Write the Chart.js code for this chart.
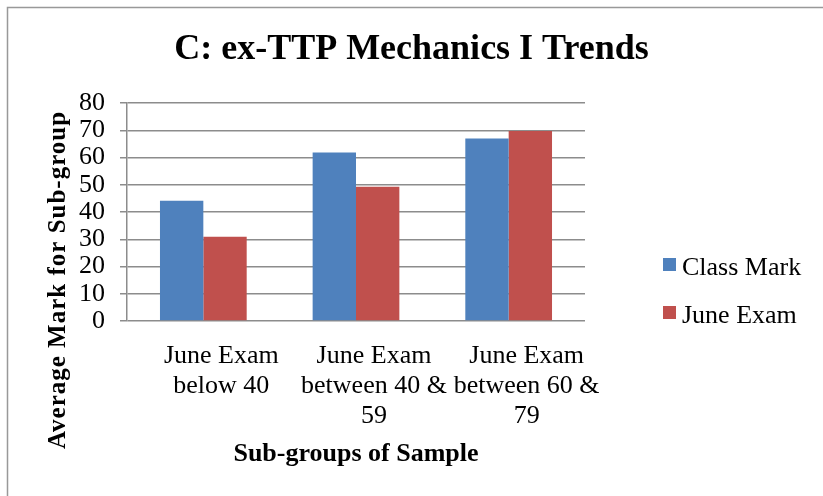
<!DOCTYPE html>
<html>
<head>
<meta charset="utf-8">
<script src="https://cdn.jsdelivr.net/npm/chart.js@4.4.1/dist/chart.umd.min.js"></script>
<style>
  html, body { margin: 0; padding: 0; background: #fff; overflow: hidden; }
  #wrap { position: relative; width: 823px; height: 496px; }
</style>
</head>
<body>
<div id="wrap"><canvas id="chart" width="823" height="496"></canvas></div>
<script>
// chart data
const categories = [
  ['June Exam', 'below 40'],
  ['June Exam', 'between 40 &', '59'],
  ['June Exam', 'between 60 &', '79']
];
const classMark = [44.2, 61.9, 67.0];
const juneExam = [30.9, 49.3, 69.8];
const seriesNames = ['Class Mark', 'June Exam'];
const seriesColors = ['#4f81bd', '#c0504d'];

const serif = "'Liberation Serif', 'Times New Roman', serif";
const gridGray = '#8c8c8c';

// frame, rotated y title and the legend, placed as in the original sheet
const decor = {
  id: 'decor',
  beforeDraw(chart) {
    const ctx = chart.ctx;
    ctx.save();
    ctx.fillStyle = '#fff';
    ctx.fillRect(0, 0, chart.width, chart.height);
    ctx.strokeStyle = '#999';
    ctx.lineWidth = 1.5;
    ctx.beginPath();
    ctx.moveTo(7.5, chart.height + 5);
    ctx.lineTo(7.5, 7.5);
    ctx.lineTo(chart.width + 5, 7.5);
    ctx.stroke();
    ctx.restore();
  },
  afterDraw(chart) {
    const ctx = chart.ctx;
    ctx.save();
    // y axis title
    ctx.translate(65, 280);
    ctx.rotate(-Math.PI / 2);
    ctx.font = 'bold 25px ' + serif;
    ctx.letterSpacing = '1px';
    ctx.fillStyle = '#000';
    ctx.textAlign = 'center';
    ctx.textBaseline = 'alphabetic';
    ctx.fillText('Average Mark for Sub-group', 0, 0);
    ctx.restore();

    // legend
    ctx.save();
    ctx.font = '26px ' + serif;
    ctx.textBaseline = 'alphabetic';
    chart.data.datasets.forEach((ds, i) => {
      const y = 258 + i * 48;
      ctx.fillStyle = ds.backgroundColor;
      ctx.fillRect(663, y, 13, 13);
      ctx.fillStyle = '#000';
      ctx.fillText(ds.label, 682, y + 17);
    });
    ctx.restore();
  }
};

new Chart(document.getElementById('chart'), {
  type: 'bar',
  data: {
    labels: categories,
    datasets: [
      { label: seriesNames[0], data: classMark, backgroundColor: seriesColors[0] },
      { label: seriesNames[1], data: juneExam, backgroundColor: seriesColors[1] }
    ]
  },
  options: {
    responsive: false,
    animation: false,
    devicePixelRatio: 1,
    layout: { padding: 0 },
    datasets: {
      bar: { categoryPercentage: 0.568, barPercentage: 1.0, borderWidth: 0 }
    },
    plugins: {
      legend: { display: false },
      tooltip: { enabled: false },
      title: {
        display: true,
        text: 'C: ex-TTP Mechanics I Trends',
        color: '#000',
        font: { family: serif, size: 36, weight: 'bold', lineHeight: 1.2 },
        padding: { top: 28, bottom: 32 }
      }
    },
    scales: {
      x: {
        grid: { display: false },
        border: { display: false },
        ticks: {
          color: '#000',
          font: { family: serif, size: 26, lineHeight: 1.15 },
          padding: 12,
          labelOffset: 18,
          maxRotation: 0,
          autoSkip: false
        },
        title: {
          display: true,
          text: 'Sub-groups of Sample',
          color: '#000',
          font: { family: serif, size: 26, weight: 'bold', lineHeight: 1.2 },
          padding: { top: 0, bottom: 26 }
        },
        afterFit(scale) { scale.height = 175; }
      },
      y: {
        min: 0,
        max: 80,
        ticks: {
          stepSize: 10,
          autoSkip: false,
          color: '#000',
          font: { family: serif, size: 26 },
          padding: 15
        },
        grid: { color: gridGray, lineWidth: 1.5, tickLength: 7 },
        border: { display: true, color: gridGray, width: 1.5 },
        afterFit(scale) { scale.width = 127; }
      },
      // empty right-hand axis keeps room for the legend
      side: {
        position: 'right',
        display: true,
        grid: { display: false },
        border: { display: false },
        ticks: { display: false },
        afterFit(scale) { scale.width = 238; }
      }
    }
  },
  plugins: [decor]
});
</script>
</body>
</html>
